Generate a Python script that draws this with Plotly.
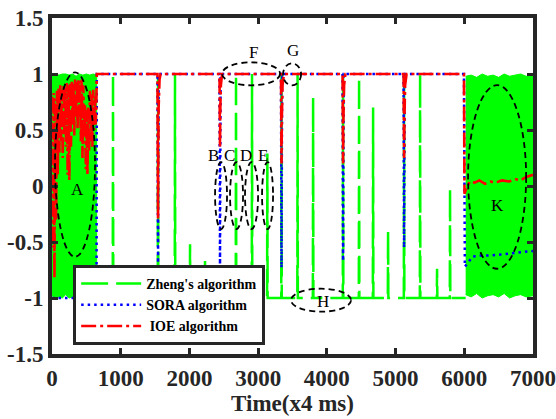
import plotly.graph_objects as go

# ---------------- data (time in x4 ms samples) ----------------
# Zheng's algorithm: dense +/-1 oscillation bursts, stored as upper/lower envelopes
zheng_burst1_t = [0, 50, 100, 150, 200, 250, 300, 350, 400, 450, 500, 550, 600, 650]
zheng_burst1_hi = [0.99, 1.0, 0.99, 1.0, 1.0, 0.99, 1.0, 0.98, 1.0, 0.99, 1.0, 0.99, 1.0, 0.99]
zheng_burst1_lo = [-0.98, -1.0, -0.99, -1.0, -0.97, -1.0, -0.99, -1.0, -0.98, -1.0, -0.99, -0.97, -1.0, -0.99]

zheng_burst2_t = [6020, 6100, 6180, 6260, 6340, 6420, 6500, 6580, 6660, 6740, 6820, 6900, 7000]
zheng_burst2_hi = [0.98, 0.99, 0.97, 1.0, 0.98, 0.99, 0.97, 1.0, 0.98, 0.99, 1.0, 0.98, 0.99]
zheng_burst2_lo = [-0.97, -0.99, -0.96, -1.0, -0.98, -0.97, -0.99, -0.96, -1.0, -0.98, -0.97, -0.99, -0.98]

# Zheng's algorithm between the bursts
zheng_t = [650,
           884, 888, 892, 1539, 1543, 1547, 1786, 1790, 1794,
           2005, 2009, 2013, 2223, 2227, 2231, 2674, 2678, 2682,
           2907, 2911, 2915, 3130, 3134, 3138, 3336, 3340, 3344,
           3570, 3574, 3578, 3796, 3800, 3804, 4232, 4236, 4240,
           4465, 4469, 4473, 4669, 4673, 4677, 4887, 4891, 4895,
           5120, 5124, 5128, 5353, 5357, 5361, 5600, 5604, 5608,
           5789, 5793, 5797,
           6020]
zheng_v = [-1,
           -1, 1, -1, -1, 1, -1, -1, 1, -1,
           -1, -0.52, -1, -1, -0.67, -1, -1, 1, -1,
           -1, 1, -1, -1, 0.29, -1, -1, 1, -1,
           -1, 1, -1, -1, 0.79, -1, -1, 1, -1,
           -1, 0.97, -1, -1, 0.70, -1, -1, -0.40, -1,
           -1, 1, -1, -1, 1, -1, -1, -0.74, -1,
           -1, -0.02, -1,
           -1]

# SORA algorithm
sora_t = [0, 648, 652, 1535, 1543, 1552, 2437, 2445, 2454, 3332, 3340, 3349,
          4228, 4236, 4245, 5116, 5124, 5133, 5995, 6008, 6060, 6120, 6250,
          6400, 6550, 6700, 6850, 7000]
sora_v = [-1, -1, 1, 1, -0.69, 1, 1, -0.70, 1, 1, -0.73, 1,
          1, -0.67, 1, 1, -0.55, 1, 1, -0.72, -0.68, -0.63, -0.62,
          -0.62, -0.61, -0.60, -0.59, -0.58]

# IOE algorithm
ioe_t = [0, 12, 24, 36, 48, 60, 72, 84, 96, 108, 120, 132, 144, 156, 168, 180,
         192, 204, 216, 228, 240, 252, 264, 276, 288, 300, 312, 324, 336, 348,
         360, 372, 384, 396, 408, 420, 432, 444, 456, 468, 480, 492, 504, 516,
         528, 540, 552, 564, 576, 588, 600, 612, 624, 636, 646,
         652, 1535, 1539, 1543, 1547, 1552, 1565, 1580,
         2438, 2442, 2445, 2450, 2458, 2475,
         3333, 3337, 3340, 3345, 3355, 3375,
         4229, 4233, 4236, 4241, 4251, 4270,
         5117, 5121, 5124, 5129, 5139, 5160,
         5995, 6003, 6030, 6080, 6150, 6220, 6300, 6380, 6450, 6550, 6650,
         6750, 6820, 6900, 7000]
ioe_v = [0.80, -0.55, 0.83, -0.82, 0.78, -0.30, 0.85, 0.10, 0.88, 0.30, 0.90, 0.40,
         0.86, 0.25, 0.91, 0.45, 0.88, 0.35, 0.92, 0.10, 0.90, 0.05, 0.93, 0.35,
         0.94, 0.55, 0.92, 0.45, 0.95, 0.60, 0.93, 0.50, 0.96, 0.62, 0.94, 0.40,
         0.95, 0.25, 0.90, 0.45, 0.72, 0.15, 0.68, 0.10, 0.70, 0.30, 0.85, 0.40,
         0.82, 0.35, 0.86, 0.50, 0.80, 0.55, 0.75,
         1.0, 1.0, 0.40, -0.29, 0.30, 0.70, 0.95, 1.0,
         1.0, 0.60, 0.34, 0.70, 0.90, 1.0,
         1.0, 0.50, 0.20, 0.60, 0.90, 1.0,
         1.0, 0.50, 0.20, 0.60, 0.90, 1.0,
         1.0, 0.60, 0.25, 0.60, 0.90, 1.0,
         1.0, -0.07, -0.02, 0.04, 0.03, 0.05, 0.02, 0.04, 0.03, 0.05, 0.04,
         0.06, 0.05, 0.08, 0.10]

x_ticks = [0, 1000, 2000, 3000, 4000, 5000, 6000, 7000]
y_ticks = [-1.5, -1, -0.5, 0, 0.5, 1, 1.5]
y_tick_text = ["-1.5", "-1", "-0.5", "0", "0.5", "1", "1.5"]

# marked regions: label, ellipse bounds (t0, t1, v0, v1), label position (t, v)
regions = [
    ("A", (44, 626, -0.632, 1.015), (378, -0.035)),
    ("B", (2373, 2547, -0.385, 0.214), (2344, 0.276)),
    ("C", (2591, 2780, -0.385, 0.214), (2577, 0.276)),
    ("D", (2809, 2999, -0.385, 0.214), (2824, 0.276)),
    ("E", (3057, 3217, -0.385, 0.214), (3071, 0.276)),
    ("F", (2475, 3319, 0.899, 1.104), (2926, 1.193)),
    ("G", (3362, 3625, 0.899, 1.095), (3508, 1.21)),
    ("H", (3479, 4352, -1.122, -0.917), (3945, -1.03)),
    ("K", (6055, 6900, -0.739, 0.90), (6478, -0.17)),
]

# ---------------- styling ----------------
FONT = "Liberation Serif, Times New Roman, serif"
AX = "#262626"
GREEN = "#00FF00"
BLUE = "#0000FF"
RED = "#FF0000"

fig = go.Figure()

for bt, bhi, blo in [(zheng_burst1_t, zheng_burst1_hi, zheng_burst1_lo),
                     (zheng_burst2_t, zheng_burst2_hi, zheng_burst2_lo)]:
    fig.add_trace(go.Scatter(
        x=bt + bt[::-1], y=bhi + blo[::-1], mode="lines", fill="toself",
        fillcolor=GREEN, line=dict(color=GREEN, width=1),
        showlegend=False, hoverinfo="skip"))

fig.add_trace(go.Scatter(
    x=zheng_t, y=zheng_v, mode="lines", name="Zheng's algorithm",
    line=dict(color=GREEN, width=2.5, dash="27px,8px")))
fig.add_trace(go.Scatter(
    x=sora_t, y=sora_v, mode="lines", name="SORA algorithm",
    line=dict(color=BLUE, width=2.5, dash="2.5px,4px")))
fig.add_trace(go.Scatter(
    x=ioe_t, y=ioe_v, mode="lines", name="\u00a0IOE algorithm",
    line=dict(color=RED, width=2.6, dash="15px,4px,3px,4px")))

shapes = []
annotations = []
for label, (t0, t1, v0, v1), (lt, lv) in regions:
    shapes.append(dict(type="circle", xref="x", yref="y", x0=t0, x1=t1, y0=v0, y1=v1,
                       line=dict(color="black", width=1.8, dash="6px,4px")))
    annotations.append(dict(x=lt, y=lv, xref="x", yref="y", text=label, showarrow=False,
                            font=dict(family=FONT, size=17, color="black")))

annotations.append(dict(x=0.474, y=1.062, xref="paper", yref="paper", text="(a)",
                        showarrow=False, yanchor="bottom",
                        font=dict(family=FONT, size=23, color=AX, weight="bold")))

axis_common = dict(
    ticks="inside", ticklen=6, tickwidth=3, tickcolor=AX,
    showline=True, linewidth=4, linecolor=AX, mirror="ticks",
    showgrid=False, zeroline=False, automargin=False,
    tickfont=dict(family=FONT, size=23, color=AX, weight="bold"),
)

fig.update_xaxes(range=[0, 7000], tickvals=x_ticks,
                 title=dict(text="Time(x4 ms)", standoff=5,
                            font=dict(family=FONT, size=23, color=AX, weight="bold")),
                 **axis_common)
fig.update_yaxes(range=[-1.5, 1.5], tickvals=y_ticks, ticktext=y_tick_text, **axis_common)

fig.update_layout(
    width=556, height=419,
    margin=dict(l=52, r=23, t=18, b=65),
    paper_bgcolor="white", plot_bgcolor="white",
    shapes=shapes, annotations=annotations,
    showlegend=True,
    legend=dict(x=0.044, y=0.265, xanchor="left", yanchor="top",
                bgcolor="white", bordercolor=AX, borderwidth=3,
                itemwidth=60, tracegroupgap=0,
                font=dict(family=FONT, size=14, color="black", weight="bold")),
)

fig.write_html("out.html")
